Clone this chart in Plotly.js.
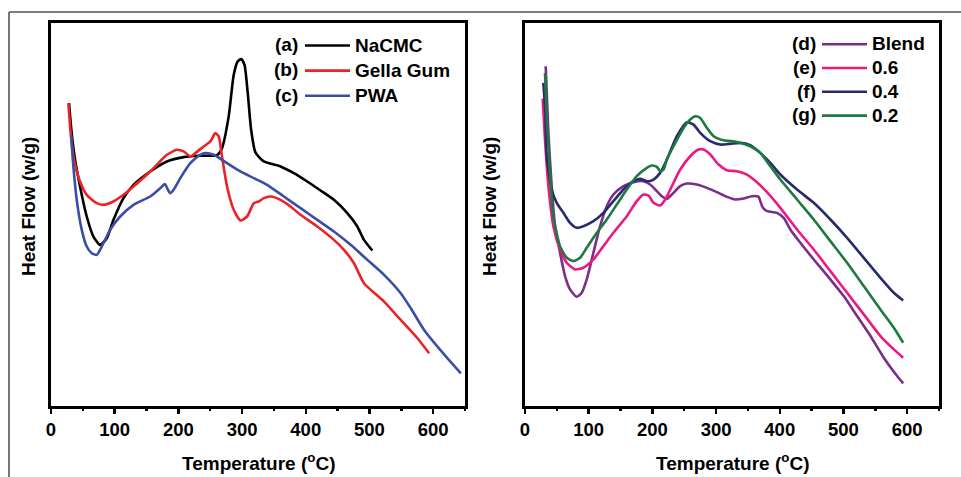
<!DOCTYPE html>
<html>
<head>
<meta charset="utf-8">
<script src="https://cdn.plot.ly/plotly-3.0.1.min.js"></script>
<style>html,body{margin:0;padding:0;background:#fff;}#chart{width:961px;height:477px;}</style>
</head>
<body>
<div id="chart"></div>
<script>
// ---- Left panel data (Temperature °C, Heat flow arbitrary units) ----
const nacmcT = [28.3,32.5,37.8,45.6,56.1,66.6,77.1,87.6,98.1,113.8,129.5,155.8,182.0,208.2,234.4,260.7,268.5,279.0,286.9,293.2,298.4,303.7,308.9,314.2,321.0,334.1,360.3,381.3,402.3,423.2,444.2,465.2,480.9,491.4,504.5];
const nacmcH = [908,818,738,658,568,508,483,503,558,623,663,703,733,746,750,752,773,868,993,1033,1040,1023,938,828,760,733,718,698,673,646,618,578,538,498,466];

const gellaT = [27.3,30.9,36.2,45.6,56.1,71.8,82.3,98.1,113.8,129.5,155.8,182.0,197.7,208.2,218.7,226.6,239.7,250.2,258.0,263.3,268.5,276.4,286.9,297.4,307.9,318.4,326.2,334.1,344.6,360.3,376.0,391.8,418.0,444.2,460.0,475.7,491.4,522.9,549.1,575.3,593.7];
const gellaH = [908,818,738,673,633,608,603,613,633,658,703,753,768,763,748,758,778,793,818,808,748,658,588,556,568,608,613,623,628,618,598,573,538,498,468,428,368,313,258,203,158];

const pwaT = [31.5,35.1,40.4,48.3,56.1,64.0,71.8,79.7,92.8,108.6,129.5,155.8,171.5,178.8,183.6,187.2,192.5,203.0,218.7,234.4,242.3,255.4,276.4,297.4,318.4,339.3,365.6,391.8,418.0,444.2,470.5,496.7,522.9,549.1,564.9,585.8,606.8,622.6,643.5];
const pwaH = [813,718,618,528,478,458,453,478,528,568,603,628,653,665,648,638,648,683,728,753,758,753,728,703,683,663,628,593,558,523,483,438,393,338,293,228,178,143,98];

// ---- Right panel data ----
const blendT = [32.5,36.7,41.9,47.2,55.0,62.9,70.7,81.2,89.1,96.9,107.4,117.9,128.4,138.8,154.6,170.3,186.0,196.5,207.0,214.9,222.7,230.6,243.7,254.2,269.9,285.6,301.3,317.0,330.1,343.2,356.3,366.8,369.4,373.6,380.4,395.6,406.1,416.6,432.3,453.3,479.5,500.4,521.4,542.4,563.3,584.3,593.7];
const blendH = [1020,820,660,540,460,390,350,328,340,380,460,540,600,635,660,672,675,665,645,630,622,635,660,668,665,655,642,628,620,623,630,628,615,595,585,580,565,530,490,440,380,330,270,210,145,90,68];

const p06T = [27.8,31.4,36.7,44.5,55.0,65.5,78.6,91.7,107.4,123.1,138.8,159.8,175.5,186.0,193.9,201.8,212.2,220.1,230.6,243.7,259.4,272.5,280.4,290.8,303.9,317.0,332.8,348.5,364.2,379.9,400.9,427.1,453.3,479.5,505.7,531.9,558.1,579.1,593.7];
const p06H = [923,800,660,540,470,430,410,415,440,480,520,570,615,635,632,610,602,620,660,710,750,770,770,755,725,708,705,695,672,642,595,530,470,405,340,275,210,170,145];

const p04T = [28.8,32.0,34.1,41.9,49.8,60.3,70.7,81.2,91.7,107.4,123.1,138.8,154.6,170.3,180.8,191.3,201.8,212.2,222.7,238.4,254.2,264.6,275.1,290.8,306.6,322.3,338.0,353.7,369.4,385.2,400.9,427.1,453.3,479.5,505.7,531.9,558.1,579.1,593.7];
const p04H = [970,880,750,650,610,580,550,535,540,555,580,615,650,675,682,675,680,700,740,810,852,845,820,795,785,787,790,783,760,730,695,650,610,560,505,445,385,340,317];

const p02T = [31.4,34.1,39.3,44.5,55.0,65.5,76.0,86.5,96.9,112.7,128.4,144.1,159.8,175.5,191.3,199.1,207.0,212.2,217.5,222.7,233.2,248.9,259.4,267.3,275.1,285.6,296.1,311.8,332.8,353.7,369.4,385.2,400.9,427.1,453.3,479.5,505.7,531.9,558.1,579.1,593.7];
const p02H = [1000,870,700,570,480,445,435,445,475,520,560,605,650,690,715,722,718,705,710,740,780,835,860,870,865,835,810,798,793,780,760,720,680,620,560,495,430,360,290,235,190];

const leftNames = ['NaCMC','Gella Gum','PWA'];
const leftTags = ['(a)','(b)','(c)'];
const rightNames = ['Blend','0.6','0.4','0.2'];
const rightTags = ['(d)','(e)','(f)','(g)'];
const xTicks = [0,100,200,300,400,500,600];

const colors = {nacmc:'#000000', gella:'#ec2227', pwa:'#3a4ea6', blend:'#7a2e8c', p06:'#ec1a80', p04:'#29296e', p02:'#1c7a3e'};

const FONT = 'Liberation Sans, Arial, sans-serif';
const LW = 2.6;

function big(s) { return '<span style="font-size:19px">' + s + '</span>'; }

function tr(x, y, name, color, xa, ya, leg, grp) {
  return {x:x, y:y, name:big(name), type:'scatter', mode:'lines', xaxis:xa, yaxis:ya,
    legend:leg, legendgroup:grp,
    line:{color:color, width:LW, shape:'spline', smoothing:0.6}};
}

const data = [
  tr(nacmcT, nacmcH, leftNames[0], colors.nacmc, 'x', 'y', 'legend', 'a'),
  tr(gellaT, gellaH, leftNames[1], colors.gella, 'x', 'y', 'legend', 'b'),
  tr(pwaT, pwaH, leftNames[2], colors.pwa, 'x', 'y', 'legend', 'c'),
  tr(blendT, blendH, rightNames[0], colors.blend, 'x2', 'y2', 'legend2', 'd'),
  tr(p06T, p06H, rightNames[1], colors.p06, 'x2', 'y2', 'legend2', 'e'),
  tr(p04T, p04H, rightNames[2], colors.p04, 'x2', 'y2', 'legend2', 'f'),
  tr(p02T, p02H, rightNames[3], colors.p02, 'x2', 'y2', 'legend2', 'g')
];

function xax(domain, anchor) {
  return {domain:domain, anchor:anchor, range:[0,650], showgrid:false, zeroline:false,
    showline:true, mirror:true, linecolor:'#000', linewidth:2.6,
    ticks:'outside', ticklen:5, tickwidth:2.4, tickcolor:'#000',
    tickvals:xTicks, ticktext:xTicks.map(String),
    minor:{tickvals:[50,150,250,350,450,550,650], ticks:'outside', ticklen:2.5, tickwidth:2.4, tickcolor:'#000'},
    tickfont:{family:FONT, size:18.5, color:'#000', weight:'bold'}, fixedrange:true};
}
function yax(domain, anchor, range) {
  return {domain:domain, anchor:anchor, range:range, showgrid:false, zeroline:false,
    showline:true, mirror:true, linecolor:'#000', linewidth:2.6, ticks:'', showticklabels:false, fixedrange:true};
}

const PH = 383; // plot height in px
function py(p) { return (406 - p) / PH; }
function px(p) { return p / 961; }

const annotations = [];
function ann(text, x, y, opts) {
  annotations.push(Object.assign({text:text, x:x, y:y, xref:'paper', yref:'paper', showarrow:false,
    xanchor:'center', yanchor:'middle',
    font:{family:FONT, size:19, color:'#000', weight:'bold'}}, opts || {}));
}
ann('Temperature (<sup>o</sup>C)', px(258), py(462));
ann('Temperature (<sup>o</sup>C)', px(732), py(462));
ann('Heat Flow (w/g)', px(29), py(207), {textangle:-90});
ann('Heat Flow (w/g)', px(490), py(207), {textangle:-90});
leftTags.forEach((t, i) => ann(t, px(300), py(45 + i*25), {xanchor:'right'}));
rightTags.forEach((t, i) => ann(t, px(818), py(43 + i*24), {xanchor:'right'}));

const layout = {
  width:961, height:477, margin:{l:0, r:0, t:23, b:71}, paper_bgcolor:'#fff', plot_bgcolor:'#fff',
  showlegend:true,
  xaxis: xax([px(51), px(465)], 'y'),
  yaxis: yax([0,1], 'x', [0,1148]),
  xaxis2: xax([px(525), px(939)], 'y2'),
  yaxis2: yax([0,1], 'x2', [0,1150]),
  legend:{x:px(300), y:py(28), xanchor:'left', yanchor:'top', bgcolor:'rgba(0,0,0,0)', borderwidth:0,
    font:{family:FONT, size:17, color:'#000', weight:'bold'}, itemwidth:45, traceorder:'grouped', tracegroupgap:0},
  legend2:{x:px(817), y:py(27.3), xanchor:'left', yanchor:'top', bgcolor:'rgba(0,0,0,0)', borderwidth:0,
    font:{family:FONT, size:16, color:'#000', weight:'bold'}, itemwidth:45, traceorder:'grouped', tracegroupgap:0},
  annotations: annotations,
  shapes:[
    {type:'line', xref:'paper', yref:'paper', x0:px(9), x1:px(9), y0:py(477), y1:py(12), line:{color:'#555', width:1.6}},
    {type:'line', xref:'paper', yref:'paper', x0:px(9), x1:1, y0:py(12), y1:py(12), line:{color:'#555', width:1.6}}
  ]
};

Plotly.newPlot('chart', data, layout, {displayModeBar:false, staticPlot:true});
</script>
</body>
</html>
